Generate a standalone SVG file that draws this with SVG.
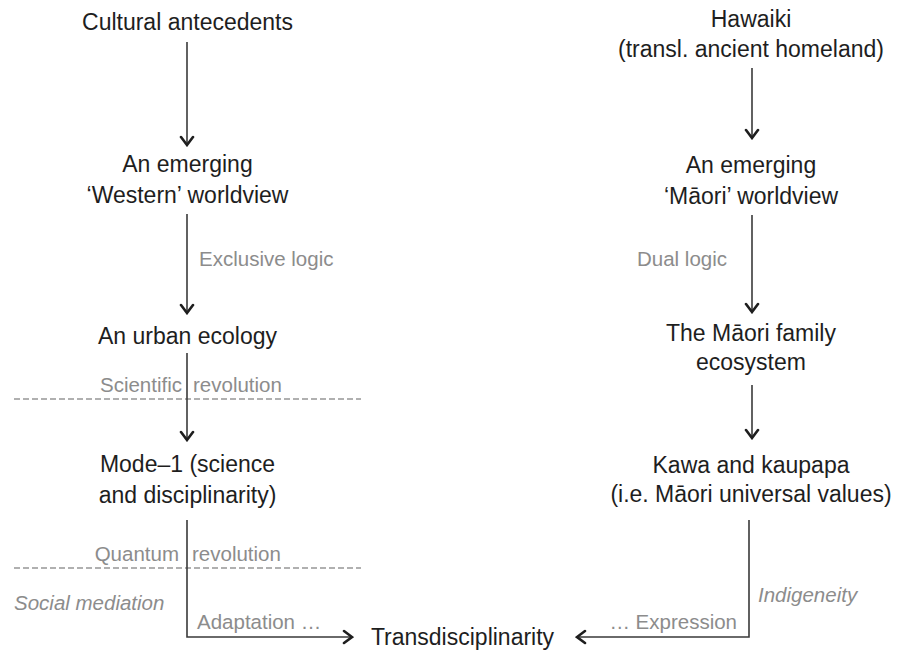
<svg xmlns="http://www.w3.org/2000/svg" width="898" height="652" viewBox="0 0 898 652">
  <style>
    .node { font-family: "Liberation Sans", Arial, sans-serif; font-size: 23px; fill: #1e1e1e; text-anchor: middle; }
    .lbl { font-family: "Liberation Sans", Arial, sans-serif; font-size: 20.5px; fill: #8c8c8c; }
    .it { font-style: italic; }
    .end { text-anchor: end; }
    .conn { fill: none; stroke: #3a3a3a; stroke-width: 1.6; }
    .dash { fill: none; stroke: #b0b0b0; stroke-width: 2; stroke-dasharray: 6 3; }
  </style>
  <defs>
    <marker id="arr" viewBox="-10 -8 12 16" refX="0" refY="0" markerWidth="12" markerHeight="16" markerUnits="userSpaceOnUse" orient="auto">
      <path d="M-8,-6 L0,0 L-8,6" fill="none" stroke="#1e1e1e" stroke-width="2.6" stroke-linecap="round" stroke-linejoin="miter"/>
    </marker>
  </defs>
  <rect width="898" height="652" fill="#ffffff"/>

  <g id="separators">
    <line class="dash" x1="14" y1="399" x2="361" y2="399"/>
    <line class="dash" x1="14" y1="568" x2="361" y2="568"/>
  </g>

  <g id="connectors">
    <line class="conn" x1="187" y1="42" x2="187" y2="145" marker-end="url(#arr)"/>
    <line class="conn" x1="187" y1="214" x2="187" y2="313" marker-end="url(#arr)"/>
    <line class="conn" x1="187" y1="353" x2="187" y2="440" marker-end="url(#arr)"/>
    <path class="conn" d="M187,520 V637 H352" marker-end="url(#arr)"/>
    <line class="conn" x1="752" y1="68" x2="752" y2="138" marker-end="url(#arr)"/>
    <line class="conn" x1="752" y1="215" x2="752" y2="312" marker-end="url(#arr)"/>
    <line class="conn" x1="752" y1="385" x2="752" y2="438" marker-end="url(#arr)"/>
    <path class="conn" d="M749,520 V637 H577" marker-end="url(#arr)"/>
  </g>

  <g id="labels">
    <text class="lbl" x="199" y="266">Exclusive logic</text>
    <text class="lbl" x="637" y="266">Dual logic</text>
    <text class="lbl end" x="182" y="392">Scientific</text>
    <text class="lbl" x="193" y="392">revolution</text>
    <text class="lbl end" x="179" y="561">Quantum</text>
    <text class="lbl" x="192" y="561">revolution</text>
    <text class="lbl it" x="14" y="610">Social mediation</text>
    <text class="lbl" x="197" y="629">Adaptation …</text>
    <text class="lbl it" x="758" y="602">Indigeneity</text>
    <text class="lbl end" x="737" y="629">… Expression</text>
  </g>

  <g id="n-cultural"><text class="node" x="187.5" y="30">Cultural antecedents</text></g>
  <g id="n-western"><text class="node" x="187.5" y="172">An emerging</text><text class="node" x="187.5" y="203">‘Western’ worldview</text></g>
  <g id="n-urban"><text class="node" x="187.5" y="344">An urban ecology</text></g>
  <g id="n-mode1"><text class="node" x="187.5" y="472">Mode–1 (science</text><text class="node" x="187.5" y="503">and disciplinarity)</text></g>

  <g id="n-hawaiki"><text class="node" x="751" y="27">Hawaiki</text><text class="node" x="751" y="57">(transl. ancient homeland)</text></g>
  <g id="n-maori"><text class="node" x="751" y="173">An emerging</text><text class="node" x="751" y="204">‘Māori’ worldview</text></g>
  <g id="n-family"><text class="node" x="751" y="341">The Māori family</text><text class="node" x="751" y="370">ecosystem</text></g>
  <g id="n-kawa"><text class="node" x="751" y="473">Kawa and kaupapa</text><text class="node" x="751" y="502">(i.e. Māori universal values)</text></g>

  <g id="n-trans"><text class="node" x="462.5" y="645">Transdisciplinarity</text></g>
</svg>
